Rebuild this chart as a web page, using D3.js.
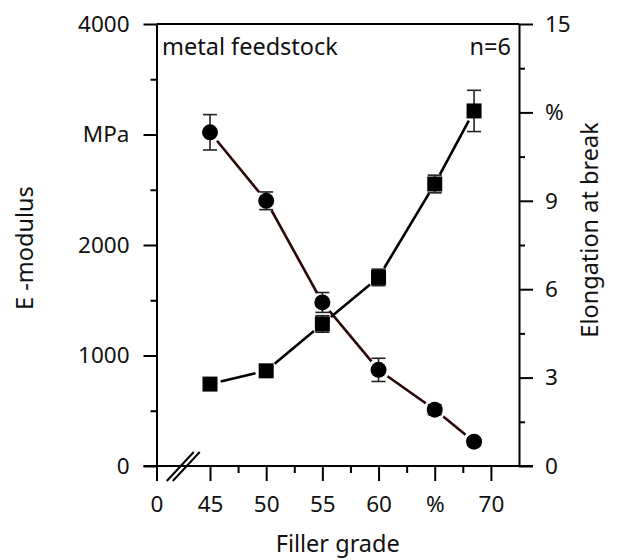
<!DOCTYPE html>
<html>
<head>
<meta charset="utf-8">
<script src="https://cdn.jsdelivr.net/npm/d3@7/dist/d3.min.js"></script>
<style>
  html, body { margin: 0; padding: 0; background: #fff; }
  svg { display: block; }
  text { font-family: "Noto Sans", "Open Sans", sans-serif; fill: #111; }
</style>
</head>
<body>
<svg id="chart" width="618" height="560"></svg>
<script>
// ---- data ----
const fillerGrade = [45, 50, 55, 60, 65, 68.5];
const eModulus = [3020, 2400, 1480, 870, 510, 220];
const eModulusErr = [160, 80, 90, 105, 45, 35];
const elongation = [2.78, 3.23, 4.82, 6.40, 9.57, 12.05];
const elongationErr = [0.1, 0.15, 0.28, 0.28, 0.3, 0.7];

const xTickValues = [0, 45, 50, 55, 60, 65, 70];
const xTickLabels = ["0", "45", "50", "55", "60", "%", "70"];
const xMinorTicks = [47.5, 52.5, 57.5, 62.5, 67.5];
const yLeftTickValues = [0, 1000, 2000, 3000, 4000];
const yLeftTickLabels = ["0", "1000", "2000", "MPa", "4000"];
const yLeftMinor = [500, 1500, 2500, 3500];
const yRightTickValues = [0, 3, 6, 9, 12, 15];
const yRightTickLabels = ["0", "3", "6", "9", "%", "15"];
const yRightMinor = [1.5, 4.5, 7.5, 10.5, 13.5];

// ---- layout ----
const L = 156.5, R = 519, T = 24, B = 466;
const svg = d3.select("#chart");

const x = d3.scaleLinear().domain([0, 45, 72.5]).range([L, 210, R]);
const yL = d3.scaleLinear().domain([0, 4000]).range([B, T]);
const yR = d3.scaleLinear().domain([0, 15]).range([B, T]);

const fs = 22.5;

// frame top line
svg.append("line").attr("x1", L).attr("x2", R).attr("y1", T).attr("y2", T)
  .attr("stroke", "#000").attr("stroke-width", 2);

function styleAxis(g) {
  g.selectAll("path.domain").attr("stroke", "#000").attr("stroke-width", 2);
  g.selectAll(".tick line").attr("stroke", "#000").attr("stroke-width", 2);
  g.selectAll(".tick text").style("font-size", fs + "px").style("font-family", '"Noto Sans", sans-serif').attr("fill", "#111");
}

// left axis
const gL = svg.append("g").attr("transform", `translate(${L},0)`)
  .call(d3.axisLeft(yL).tickValues(yLeftTickValues)
    .tickFormat((d, i) => yLeftTickLabels[i]).tickSize(13).tickSizeOuter(0).tickPadding(14));
styleAxis(gL);
const gLm = svg.append("g").attr("transform", `translate(${L},0)`)
  .call(d3.axisLeft(yL).tickValues(yLeftMinor).tickFormat("").tickSize(6).tickSizeOuter(0));
styleAxis(gLm); gLm.select("path.domain").remove();

// right axis
const gR = svg.append("g").attr("transform", `translate(${R},0)`)
  .call(d3.axisRight(yR).tickValues(yRightTickValues)
    .tickFormat((d, i) => yRightTickLabels[i]).tickSize(14).tickSizeOuter(0).tickPadding(12));
styleAxis(gR);
const gRm = svg.append("g").attr("transform", `translate(${R},0)`)
  .call(d3.axisRight(yR).tickValues(yRightMinor).tickFormat("").tickSize(6).tickSizeOuter(0));
styleAxis(gRm); gRm.select("path.domain").remove();

// bottom axis
const gB = svg.append("g").attr("transform", `translate(0,${B})`)
  .call(d3.axisBottom(x).tickValues(xTickValues)
    .tickFormat((d, i) => xTickLabels[i]).tickSize(15).tickSizeOuter(0).tickPadding(15));
styleAxis(gB);
gB.select("path.domain").attr("d", `M${L - 13},0H${R + 14}`);
const gBm = svg.append("g").attr("transform", `translate(0,${B})`)
  .call(d3.axisBottom(x).tickValues(xMinorTicks).tickFormat("").tickSize(7).tickSizeOuter(0));
styleAxis(gBm); gBm.select("path.domain").remove();

// axis break marks
const bx = (x(0) + x(45)) / 2;
[-3, 3].forEach(o => {
  svg.append("line")
    .attr("x1", bx + o - 13.5).attr("y1", B + 15)
    .attr("x2", bx + o + 13.5).attr("y2", B - 14)
    .attr("stroke", "#000").attr("stroke-width", 2);
});

// trimmed connecting lines
function trimmedSegments(xs, ys, gap) {
  const segs = [];
  for (let i = 0; i < xs.length - 1; i++) {
    const x1 = xs[i], y1 = ys[i], x2 = xs[i + 1], y2 = ys[i + 1];
    const dx = x2 - x1, dy = y2 - y1, len = Math.hypot(dx, dy);
    const ux = dx / len, uy = dy / len;
    segs.push([x1 + ux * gap, y1 + uy * gap, x2 - ux * gap, y2 - uy * gap]);
  }
  return segs;
}

const ePx = fillerGrade.map(d => x(d)), eLy = eModulus.map(d => yL(d)), eRy = elongation.map(d => yR(d));

// error bars
function errorBars(yScale, vals, errs, color) {
  const g = svg.append("g");
  fillerGrade.forEach((f, i) => {
    const cx = x(f), y1 = yScale(vals[i] + errs[i]), y2 = yScale(vals[i] - errs[i]);
    g.append("line").attr("x1", cx).attr("x2", cx).attr("y1", y1).attr("y2", y2)
      .attr("stroke", color).attr("stroke-width", 1.6);
    [y1, y2].forEach(yy => g.append("line").attr("x1", cx - 7).attr("x2", cx + 7)
      .attr("y1", yy).attr("y2", yy).attr("stroke", color).attr("stroke-width", 1.6));
  });
}
errorBars(yL, eModulus, eModulusErr, "#222");
errorBars(yR, elongation, elongationErr, "#222");

svg.append("g").selectAll("line").data(trimmedSegments(ePx, eLy, 11)).join("line")
  .attr("x1", d => d[0]).attr("y1", d => d[1]).attr("x2", d => d[2]).attr("y2", d => d[3])
  .attr("stroke", "#2a0606").attr("stroke-width", 2.6);
svg.append("g").selectAll("line").data(trimmedSegments(ePx, eRy, 11)).join("line")
  .attr("x1", d => d[0]).attr("y1", d => d[1]).attr("x2", d => d[2]).attr("y2", d => d[3])
  .attr("stroke", "#000").attr("stroke-width", 2.6);

// markers
svg.append("g").selectAll("circle").data(fillerGrade).join("circle")
  .attr("cx", d => x(d)).attr("cy", (d, i) => yL(eModulus[i])).attr("r", 8).attr("fill", "#000");
svg.append("g").selectAll("rect").data(fillerGrade).join("rect")
  .attr("x", d => x(d) - 7.5).attr("y", (d, i) => yR(elongation[i]) - 7.5)
  .attr("width", 15).attr("height", 15).attr("fill", "#000");

// texts
const fsT = 23.5;
svg.append("text").attr("x", 162).attr("y", 55).style("font-size", fsT + "px").text("metal feedstock");
svg.append("text").attr("x", 511).attr("y", 55).attr("text-anchor", "end").style("font-size", fsT + "px").text("n=6");
svg.append("text").attr("x", (L + R) / 2).attr("y", 552).attr("text-anchor", "middle")
  .style("font-size", fsT + "px").text("Filler grade");
svg.append("text").attr("transform", "translate(33,248) rotate(-90)").attr("text-anchor", "middle")
  .style("font-size", fsT + "px").text("E -modulus");
svg.append("text").attr("transform", "translate(598,230) rotate(-90)").attr("text-anchor", "middle")
  .style("font-size", fsT + "px").text("Elongation at break");
</script>
</body>
</html>
